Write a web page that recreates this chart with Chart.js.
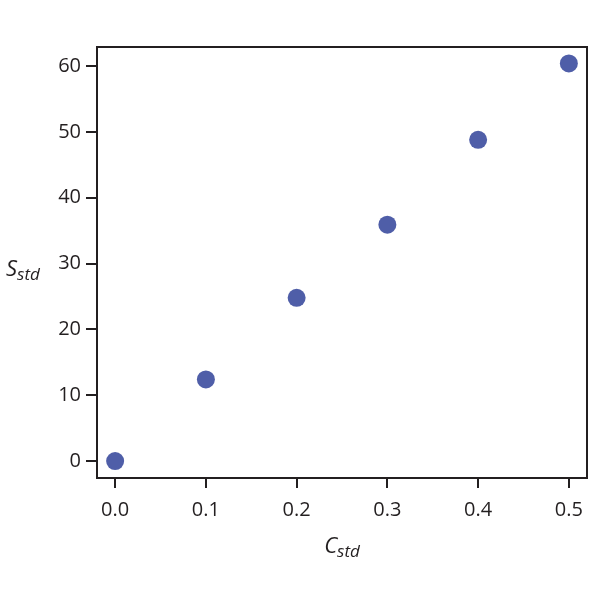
<!DOCTYPE html>
<html>
<head>
<meta charset="utf-8">
<script src="https://cdn.jsdelivr.net/npm/chart.js@4"></script>
<style>
  html, body { margin: 0; padding: 0; background: #fff; }
  #wrap { width: 600px; height: 600px; }
</style>
</head>
<body>
<div id="wrap"><canvas id="chart" width="600" height="600"></canvas></div>
<script>
var cStd = [0.0, 0.1, 0.2, 0.3, 0.4, 0.5];
var sStd = [0.0, 12.4, 24.8, 35.9, 48.8, 60.4];
var xTicks = [0.0, 0.1, 0.2, 0.3, 0.4, 0.5];
var yTicks = [0, 10, 20, 30, 40, 50, 60];

var FONT = '"Open Sans", "Noto Sans", sans-serif';
var INK = '#231f20';

function subTitle(ctx, x, y, main, sub, align) {
  ctx.save();
  ctx.fillStyle = INK;
  ctx.textBaseline = 'alphabetic';
  ctx.font = 'italic 22px ' + FONT;
  var w1 = ctx.measureText(main).width;
  ctx.font = 'italic 17px ' + FONT;
  var w2 = ctx.measureText(sub).width;
  var start = align === 'center' ? x - (w1 + w2) / 2 : x;
  ctx.font = 'italic 22px ' + FONT;
  ctx.textAlign = 'left';
  ctx.fillText(main, start, y);
  ctx.font = 'italic 17px ' + FONT;
  ctx.fillText(sub, start + w1, y + 4);
  ctx.restore();
}

var framePlugin = {
  id: 'frame',
  afterDraw: function (chart) {
    var a = chart.chartArea;
    var ctx = chart.ctx;
    ctx.save();
    ctx.strokeStyle = INK;
    ctx.lineWidth = 2;
    ctx.strokeRect(a.left, a.top, a.right - a.left, a.bottom - a.top);
    ctx.restore();
    subTitle(ctx, 6, 276, 'S', 'std', 'left');
    subTitle(ctx, (a.left + a.right) / 2, 553, 'C', 'std', 'center');
  }
};

new Chart(document.getElementById('chart'), {
  type: 'scatter',
  data: {
    datasets: [{
      data: cStd.map(function (c, i) { return { x: c, y: sStd[i] }; }),
      pointRadius: 9,
      pointHoverRadius: 9,
      pointBackgroundColor: '#4f5ea8',
      pointBorderWidth: 0
    }]
  },
  options: {
    responsive: false,
    animation: false,
    clip: false,
    layout: { padding: { top: 47, right: 13, left: 0, bottom: 0 } },
    plugins: { legend: { display: false }, tooltip: { enabled: false } },
    scales: {
      x: {
        type: 'linear',
        min: -0.02,
        max: 0.52,
        afterBuildTicks: function (s) { s.ticks = xTicks.map(function (v) { return { value: v }; }); },
        afterFit: function (s) { s.height = 122; },
        grid: { drawOnChartArea: false, drawTicks: true, tickLength: 10, color: INK, lineWidth: 2 },
        border: { display: false },
        ticks: {
          padding: 10,
          color: INK,
          font: { family: FONT, size: 20 },
          maxRotation: 0,
          callback: function (v) { return v.toFixed(1); }
        }
      },
      y: {
        type: 'linear',
        min: -2.58,
        max: 62.9,
        afterBuildTicks: function (s) { s.ticks = yTicks.map(function (v) { return { value: v }; }); },
        afterFit: function (s) { s.width = 97; },
        grid: { drawOnChartArea: false, drawTicks: true, tickLength: 11, color: INK, lineWidth: 2 },
        border: { display: false },
        ticks: {
          padding: 5,
          color: INK,
          font: { family: FONT, size: 20 }
        }
      }
    }
  },
  plugins: [framePlugin]
});
</script>
</body>
</html>
